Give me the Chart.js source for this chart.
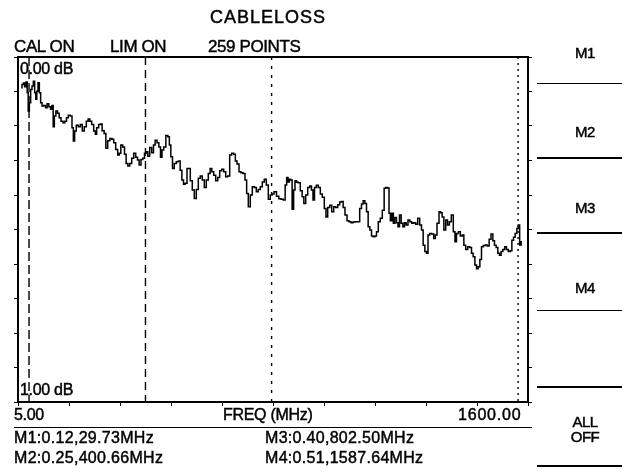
<!DOCTYPE html>
<html>
<head>
<meta charset="utf-8">
<script src="https://cdn.jsdelivr.net/npm/chart.js@4"></script>
<style>
  body { margin: 0; background: #fff; }
  #wrap { position: relative; width: 622px; height: 474px; overflow: hidden; }
  #plot { position: absolute; left: 0; top: 0; }
  .t { position: absolute; white-space: nowrap; line-height: 1; color: #000;
       font-family: "Liberation Sans", Arial, sans-serif; -webkit-text-stroke: 0.45px #000; }
  .big { font-size: 17px; letter-spacing: -0.4px; }
  .title { font-size: 18px; letter-spacing: 1px; }
  .mid { font-size: 16px; letter-spacing: -0.3px; }
  .read { font-size: 16px; letter-spacing: 0.3px; }
  .key { font-size: 15px; letter-spacing: -0.5px; text-align: center; width: 60px; }
  .rule { position: absolute; background: #000; }
</style>
</head>
<body>
<div id="wrap">
  <canvas id="plot" width="622" height="474"></canvas>
</div>
<script>
// sweep trace: frequency (MHz) and cable loss (dB)
const freqMHz = [
  5.0, 9.6, 13.7, 17.8, 22.3, 25.5, 28.7, 32.8, 37.0, 41.4,
  45.6, 49.7, 52.9, 56.1, 60.5, 64.7, 68.8, 73.3, 79.6, 84.7,
  90.2, 95.6, 100.7, 105.1, 108.3, 112.5, 117.9, 123.0, 128.4, 134.8,
  141.1, 146.5, 151.6, 158.0, 164.4, 168.8, 173.0, 177.1, 183.5, 189.9,
  196.2, 202.6, 209.0, 215.4, 220.8, 226.2, 232.6, 238.9, 243.1, 247.2,
  255.8, 259.0, 266.3, 271.7, 277.2, 283.5, 290.9, 296.3, 302.6, 309.0,
  315.4, 319.5, 324.9, 331.3, 336.4, 341.8, 347.2, 353.6, 360.0, 366.4,
  372.7, 377.8, 383.2, 389.6, 395.0, 400.1, 405.5, 411.0, 417.3, 423.7,
  428.8, 434.2, 440.6, 446.0, 451.1, 455.6, 461.9, 469.3, 474.7, 478.8,
  484.2, 489.3, 495.7, 502.1, 508.4, 513.9, 519.3, 524.4, 529.8, 536.2,
  540.3, 546.7, 553.0, 559.4, 565.8, 572.2, 578.5, 584.9, 591.3, 597.6,
  604.0, 609.4, 614.8, 621.2, 627.6, 634.0, 640.3, 646.7, 653.1, 659.4,
  665.8, 672.2, 678.6, 684.9, 689.1, 695.5, 701.8, 708.2, 714.6, 720.9,
  725.1, 731.5, 737.8, 744.2, 750.6, 756.9, 763.3, 769.7, 776.0, 782.4,
  788.8, 795.2, 801.5, 806.0, 814.3, 821.9, 829.2, 836.6, 842.9, 848.4,
  852.5, 857.0, 861.1, 865.2, 870.6, 874.8, 879.3, 884.4, 890.7, 897.1,
  902.5, 907.9, 914.3, 920.7, 927.0, 932.1, 936.6, 941.7, 948.1, 954.5,
  960.8, 967.2, 973.6, 978.0, 984.4, 990.8, 997.1, 1003.5, 1009.9, 1016.3,
  1022.6, 1027.7, 1033.1, 1039.5, 1045.9, 1052.3, 1058.6, 1065.0, 1071.4, 1080.0,
  1086.3, 1091.4, 1096.9, 1102.3, 1107.4, 1112.8, 1118.2, 1123.3, 1128.8, 1134.1,
  1139.2, 1145.6, 1152.0, 1158.3, 1163.8, 1169.2, 1174.3, 1178.8, 1182.9, 1188.3,
  1192.4, 1197.8, 1202.9, 1207.4, 1212.5, 1217.9, 1223.3, 1228.4, 1233.8, 1240.2,
  1245.6, 1252.0, 1258.4, 1264.7, 1271.1, 1277.5, 1282.6, 1288.0, 1293.4, 1298.5,
  1303.0, 1309.3, 1315.7, 1322.1, 1326.2, 1332.6, 1339.0, 1343.1, 1348.5, 1354.0,
  1360.3, 1365.4, 1371.8, 1378.2, 1384.5, 1388.9, 1394.1, 1400.4, 1406.8, 1412.2,
  1417.7, 1424.0, 1430.4, 1436.8, 1441.9, 1447.3, 1452.8, 1457.8, 1463.2, 1468.6,
  1473.7, 1480.1, 1486.4, 1492.8, 1498.2, 1504.6, 1510.0, 1515.1, 1520.5, 1525.9,
  1531.0, 1536.4, 1541.9, 1548.2, 1553.4, 1559.7, 1565.2, 1570.6, 1575.7, 1581.1,
  1586.5, 1590.6, 1594.8, 1600.0
];
const lossDb = [
  0.017, 0.005, 0.000, 0.013, -0.004, 0.035, 0.100, 0.070, 0.023, 0.011,
  -0.006, 0.035, 0.058, 0.029, -0.001, 0.035, 0.070, 0.082, 0.080, 0.088,
  0.074, 0.085, 0.094, 0.080, 0.156, 0.118, 0.100, 0.108, 0.124, 0.136,
  0.142, 0.136, 0.124, 0.115, 0.118, 0.160, 0.207, 0.171, 0.151, 0.156,
  0.148, 0.171, 0.156, 0.136, 0.128, 0.136, 0.148, 0.171, 0.183, 0.160,
  0.148, 0.146, 0.170, 0.180, 0.233, 0.206, 0.198, 0.201, 0.213, 0.237,
  0.257, 0.251, 0.221, 0.228, 0.254, 0.287, 0.296, 0.287, 0.269, 0.251,
  0.265, 0.275, 0.293, 0.273, 0.269, 0.251, 0.245, 0.261, 0.230, 0.249,
  0.221, 0.204, 0.213, 0.228, 0.265, 0.239, 0.228, 0.187, 0.192, 0.221,
  0.263, 0.305, 0.287, 0.281, 0.278, 0.311, 0.346, 0.361, 0.358, 0.305,
  0.305, 0.349, 0.382, 0.412, 0.380, 0.340, 0.332, 0.346, 0.373, 0.346,
  0.323, 0.305, 0.317, 0.329, 0.349, 0.337, 0.313, 0.308, 0.317, 0.335,
  0.332, 0.257, 0.251, 0.254, 0.278, 0.289, 0.317, 0.320, 0.323, 0.346,
  0.394, 0.442, 0.400, 0.370, 0.373, 0.388, 0.380, 0.370, 0.353, 0.344,
  0.364, 0.415, 0.400, 0.396, 0.388, 0.404, 0.413, 0.415, 0.418, 0.364,
  0.337, 0.353, 0.344, 0.346, 0.451, 0.382, 0.349, 0.354, 0.356, 0.385,
  0.406, 0.430, 0.400, 0.373, 0.368, 0.382, 0.418, 0.373, 0.365, 0.373,
  0.396, 0.408, 0.448, 0.478, 0.444, 0.436, 0.460, 0.442, 0.444, 0.435,
  0.425, 0.423, 0.444, 0.471, 0.492, 0.495, 0.499, 0.496, 0.495, 0.495,
  0.448, 0.432, 0.420, 0.430, 0.460, 0.513, 0.525, 0.546, 0.549, 0.546,
  0.531, 0.495, 0.483, 0.454, 0.376, 0.373, 0.375, 0.465, 0.492, 0.465,
  0.501, 0.480, 0.499, 0.513, 0.471, 0.501, 0.513, 0.499, 0.507, 0.489,
  0.495, 0.501, 0.499, 0.504, 0.483, 0.507, 0.525, 0.579, 0.602, 0.608,
  0.543, 0.537, 0.539, 0.555, 0.543, 0.501, 0.460, 0.463, 0.478, 0.525,
  0.489, 0.507, 0.495, 0.471, 0.531, 0.567, 0.537, 0.531, 0.546, 0.543,
  0.579, 0.594, 0.585, 0.587, 0.608, 0.620, 0.650, 0.663, 0.656, 0.630,
  0.585, 0.580, 0.578, 0.582, 0.558, 0.539, 0.563, 0.579, 0.587, 0.608,
  0.615, 0.602, 0.594, 0.585, 0.594, 0.602, 0.599, 0.561, 0.551, 0.537,
  0.519, 0.507, 0.578, 0.567
];

// marker readouts
const markerNames = ['M1', 'M2', 'M3', 'M4'];
const markerLoss = [0.12, 0.25, 0.40, 0.51];
const markerFreq = [29.73, 400.66, 802.50, 1587.64];

// header / axis texts
const startLabel = '5.00';
const stopLabel = '1600.00';
const topRefLabel = '0.00 dB';
const bottomRefLabel = '1.00 dB';

// frame limits (graticule a bit wider than the sweep)
const X_MIN = -5.4, X_MAX = 1619.3;
const Y_TOP = -0.093, Y_BOTTOM = 1.139;

const wrap = document.getElementById('wrap');
function addText(txt, cls, left, top, extra) {
  const d = document.createElement('div');
  d.className = 't ' + cls;
  d.textContent = txt;
  d.style.left = left + 'px';
  d.style.top = top + 'px';
  if (extra) Object.assign(d.style, extra);
  wrap.appendChild(d);
  return d;
}
function addRule(left, top, width, height) {
  const d = document.createElement('div');
  d.className = 'rule';
  Object.assign(d.style, { left: left + 'px', top: top + 'px', width: width + 'px', height: height + 'px' });
  wrap.appendChild(d);
}

// header
addText('CABLELOSS', 'title', 210, 8);
addText('CAL ON', 'big', 14, 38);
addText('LIM ON', 'big', 110, 38);
addText('259 POINTS', 'big', 208, 38);

// reference levels inside the graticule
addText(topRefLabel, 'mid', 20, 61);
addText(bottomRefLabel, 'mid', 20, 382);

// bottom axis row
addText(startLabel, 'mid', 14, 407);
addText('FREQ (MHz)', 'mid', 223, 407);
addText(stopLabel, 'mid', 458, 407, { letterSpacing: '0.8px' });
addRule(14, 427, 518, 1);

// marker readouts in two columns: M1/M2 left, M3/M4 right
const readPos = [[14, 430], [14, 450], [265, 430], [265, 450]];
markerNames.forEach((m, i) => {
  const txt = m + ':' + markerLoss[i].toFixed(2) + ',' + markerFreq[i].toFixed(2) + 'MHz';
  addText(txt, 'read', readPos[i][0], readPos[i][1]);
});

// soft keys on the right
const keyTops = [45, 124, 200, 280];
markerNames.forEach((m, i) => addText(m, 'key', 555, keyTops[i]));
addText('ALL', 'key', 555, 414);
addText('OFF', 'key', 555, 429);
[[83, 1], [157, 2], [232, 2], [310, 1], [386, 2], [465, 2]].forEach(r => addRule(537, r[0], 85, r[1]));

// trace + marker lines
const trace = freqMHz.map((f, i) => ({ x: f, y: lossDb[i] }));
const dashes = [[9, 4], [8, 5], [3, 6], [2, 4]];
const markerSets = markerFreq.map((f, i) => ({
  data: [{ x: f, y: Y_TOP }, { x: f, y: Y_BOTTOM }],
  borderColor: '#000',
  borderWidth: 1.4,
  borderDash: dashes[i],
  pointRadius: 0,
  xAxisID: 'x',
  yAxisID: 'y'
}));

const divAxis = (axis, position, tick) => ({
  type: 'linear', axis: axis, position: position, min: 0, max: 10,
  ticks: { display: false, stepSize: 1 },
  grid: { drawOnChartArea: false, drawTicks: tick, tickLength: 4, color: '#000', lineWidth: 1 },
  border: { display: true, color: '#000', width: 2 }
});

new Chart(document.getElementById('plot'), {
  type: 'line',
  data: {
    datasets: [{
      data: trace,
      borderColor: '#000',
      borderWidth: 1.5,
      pointRadius: 0,
      stepped: 'middle',
      xAxisID: 'x',
      yAxisID: 'y'
    }].concat(markerSets)
  },
  options: {
    responsive: false,
    animation: false,
    devicePixelRatio: 1,
    layout: { padding: { left: 14, right: 90, top: 57, bottom: 68 } },
    plugins: { legend: { display: false }, tooltip: { enabled: false } },
    scales: {
      x: { type: 'linear', min: X_MIN, max: X_MAX, display: false },
      y: { type: 'linear', min: Y_TOP, max: Y_BOTTOM, reverse: true, display: false },
      xDiv: divAxis('x', 'bottom', true),
      xTop: divAxis('x', 'top', false),
      yLeft: divAxis('y', 'left', true),
      yRight: divAxis('y', 'right', true)
    }
  }
});
</script>
</body>
</html>
